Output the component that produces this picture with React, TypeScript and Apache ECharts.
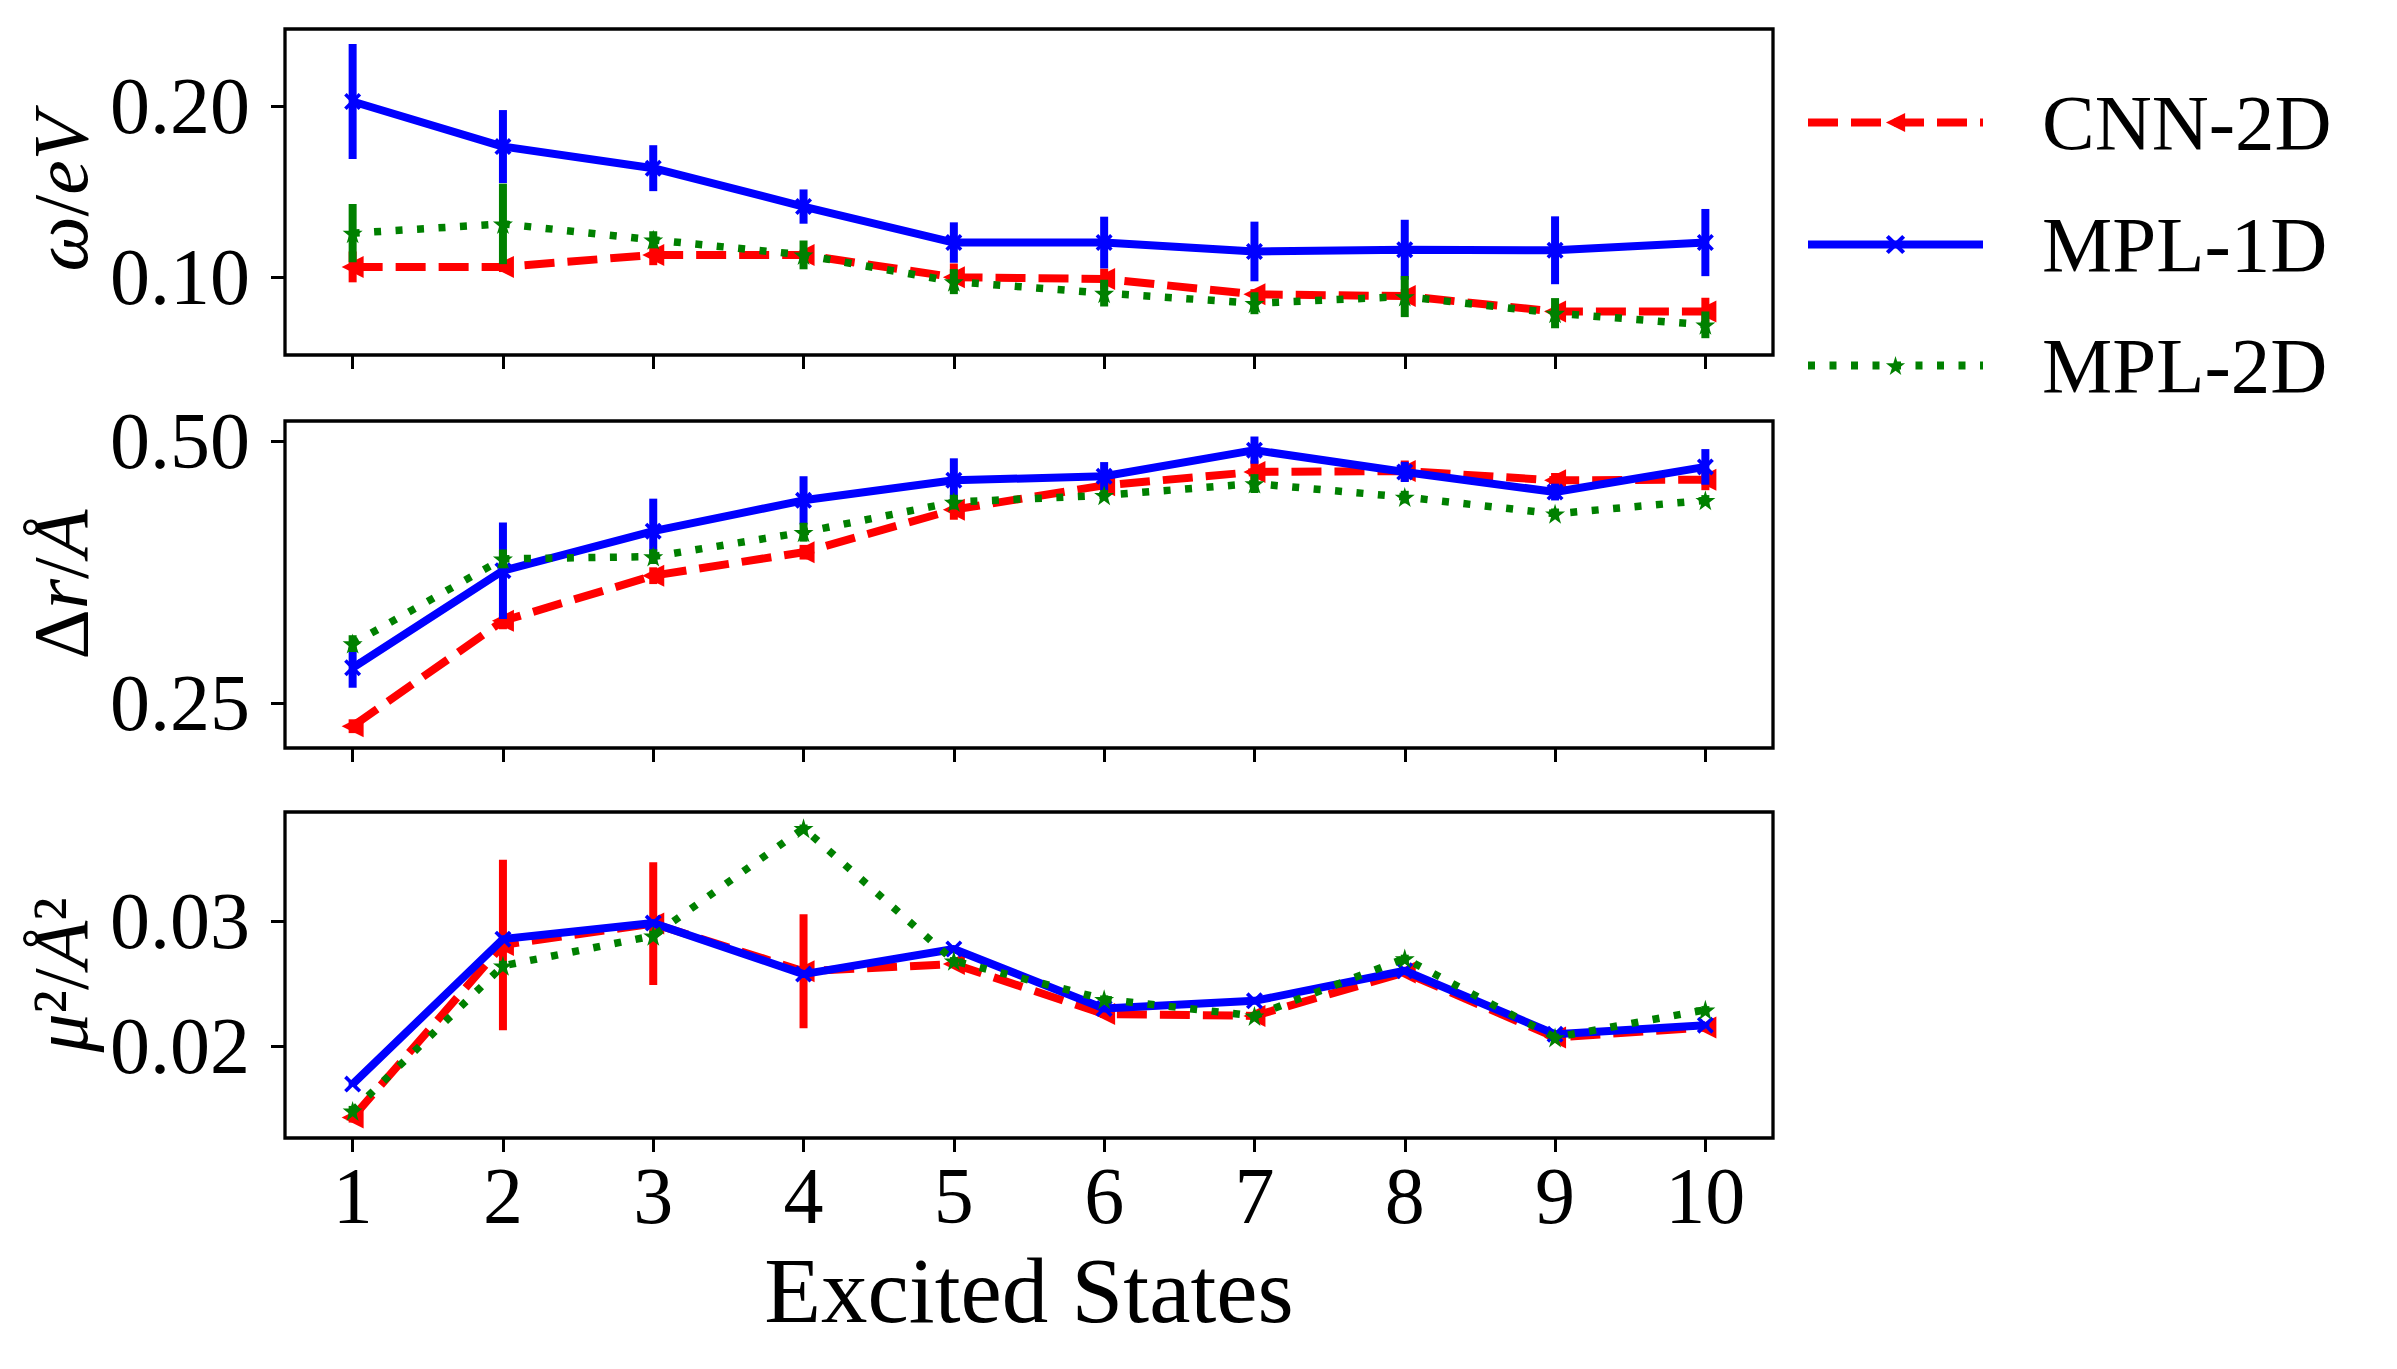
import React, { useEffect, useRef } from "react";
import * as echarts from "echarts";

// ---------------- data ----------------
const states = [1, 2, 3, 4, 5, 6, 7, 8, 9, 10];
const seriesNames = ["CNN-2D", "MPL-1D", "MPL-2D"];

// panel 1: omega / eV
const omegaCNN2D = [0.106, 0.106, 0.113, 0.113, 0.1, 0.099, 0.09, 0.089, 0.08, 0.08];
const omegaCNN2DErr = [0.009, 0.003, 0.006, 0.003, 0.008, 0.006, 0.003, 0.004, 0.003, 0.008];
const omegaMPL1D = [0.2025, 0.1762, 0.1636, 0.1412, 0.1202, 0.1202, 0.115, 0.116, 0.1157, 0.1202];
const omegaMPL1DErr = [0.0335, 0.0213, 0.0134, 0.01, 0.0118, 0.0151, 0.0174, 0.0175, 0.0198, 0.0196];
const omegaMPL2D = [0.1257, 0.1311, 0.1218, 0.113, 0.0974, 0.0907, 0.0848, 0.0887, 0.079, 0.0722];
const omegaMPL2DErr = [0.017, 0.0235, 0.005, 0.0084, 0.0073, 0.0078, 0.0064, 0.012, 0.0088, 0.0078];

// panel 2: delta r / Angstrom
const drCNN2D = [0.2283, 0.3288, 0.3719, 0.3943, 0.4349, 0.4581, 0.4709, 0.4718, 0.4629, 0.4635];
const drCNN2DErr = [0.0066, 0.008, 0.008, 0.007, 0.0096, 0.005, 0.011, 0.01, 0.007, 0.01];
const drMPL1D = [0.284, 0.3767, 0.4144, 0.4438, 0.4629, 0.4668, 0.4917, 0.4709, 0.4517, 0.4757];
const drMPL1DErr = [0.019, 0.046, 0.031, 0.023, 0.021, 0.0135, 0.013, 0.0096, 0.008, 0.017];
const drMPL2D = [0.3071, 0.3879, 0.3901, 0.4134, 0.4421, 0.4486, 0.4598, 0.4469, 0.431, 0.4438];
const drMPL2DErr = [0.008, 0.009, 0.007, 0.009, 0.007, 0.005, 0.009, 0.006, 0.005, 0.005];

// panel 3: mu^2 / Angstrom^2
const muCNN2D = [0.01433, 0.0281, 0.0298, 0.026, 0.02657, 0.02258, 0.02244, 0.0259, 0.02072, 0.02152];
const muCNN2DErr = [0.0004, 0.0068, 0.0049, 0.00455, 0.0003, 0.0003, 0.0003, 0.0003, 0.0003, 0.0003];
const muMPL1D = [0.017, 0.02856, 0.02984, 0.02577, 0.02777, 0.02303, 0.02364, 0.02604, 0.02098, 0.0217];
const muMPL1DErr = [0.0002, 0.0002, 0.0002, 0.0002, 0.0002, 0.0002, 0.0002, 0.0002, 0.0002, 0.0002];
const muMPL2D = [0.01486, 0.02643, 0.02883, 0.0374, 0.02683, 0.02377, 0.02244, 0.02702, 0.02072, 0.02292];
const muMPL2DErr = [0.0004, 0.0004, 0.0004, 0.0003, 0.0003, 0.0003, 0.0003, 0.0003, 0.0003, 0.0003];

// axis limits & ticks
const xLimits = [0.55, 10.45];
const yLimits = [
  [0.0546, 0.2448],
  [0.2075, 0.5195],
  [0.0127, 0.0387],
];
const yTicks = [
  [0.1, 0.2],
  [0.25, 0.5],
  [0.02, 0.03],
];
const yTickLabels = [
  ["0.10", "0.20"],
  ["0.25", "0.50"],
  ["0.02", "0.03"],
];
const yNames = ["{i|ω}/{i|eV}", "Δ{i|r}/{i|Å}", "{i|μ}²/{i|Å}²"];
const xName = "Excited States";

const panelValues = [
  [omegaCNN2D, omegaMPL1D, omegaMPL2D],
  [drCNN2D, drMPL1D, drMPL2D],
  [muCNN2D, muMPL1D, muMPL2D],
];
const panelErrors = [
  [omegaCNN2DErr, omegaMPL1DErr, omegaMPL2DErr],
  [drCNN2DErr, drMPL1DErr, drMPL2DErr],
  [muCNN2DErr, muMPL1DErr, muMPL2DErr],
];

// ---------------- styles ----------------
const FONT = "Liberation Serif";
const colors = ["#ff0000", "#0000ff", "#008000"];
const lineTypes: any[] = [[30, 13], "solid", [7, 14.5]];
const lineWidths = [8, 8, 7.5];
const starPath =
  "path://M50,0 L61,35 L98,35 L68,57 L79,91 L50,70 L21,91 L32,57 L2,35 L39,35 Z";
const crossPath =
  "path://M0,1.5 L1.5,0 L5,3.5 L8.5,0 L10,1.5 L6.5,5 L10,8.5 L8.5,10 L5,6.5 L1.5,10 L0,8.5 L3.5,5 Z";
const symbols = ["triangle", crossPath, starPath];
const symbolRotates = [90, 0, 0];
const symbolSizes = [22, 17, 20];

const grids = [
  { left: 285, top: 29, width: 1488, height: 326 },
  { left: 285, top: 421, width: 1488, height: 327 },
  { left: 285, top: 812, width: 1488, height: 326 },
];
const legendTops = [78, 200, 321];

export default function App() {
  const ref = useRef<HTMLDivElement>(null);

  useEffect(() => {
    document.body.style.margin = "0";
    if (!ref.current) return;
    const chart = echarts.init(ref.current, null, { renderer: "svg" });

    const grid = grids.map((g) => ({
      ...g,
      show: true,
      borderColor: "#000",
      borderWidth: 3.3,
      backgroundColor: "transparent",
    }));

    const xAxis = grids.map((_, i) => ({
      type: "value",
      gridIndex: i,
      min: xLimits[0],
      max: xLimits[1],
      axisLine: { show: false },
      splitLine: { show: false },
      axisTick: {
        show: true,
        inside: false,
        length: 14,
        lineStyle: { color: "#000", width: 3 },
        customValues: states,
      },
      axisLabel: {
        show: i === 2,
        customValues: states,
        margin: 18,
        fontFamily: FONT,
        fontSize: 80,
        color: "#000",
        formatter: (v: number) => String(Math.round(v)),
      },
      name: i === 2 ? xName : "",
      nameLocation: "middle",
      nameGap: 106,
      nameTextStyle: { fontFamily: FONT, fontSize: 93, color: "#000" },
    }));

    const yAxis = grids.map((_, i) => ({
      type: "value",
      gridIndex: i,
      min: yLimits[i][0],
      max: yLimits[i][1],
      axisLine: { show: false },
      splitLine: { show: false },
      axisTick: {
        show: true,
        inside: false,
        length: 14,
        lineStyle: { color: "#000", width: 3 },
        customValues: yTicks[i],
      },
      axisLabel: {
        show: true,
        customValues: yTicks[i],
        margin: 35,
        fontFamily: FONT,
        fontSize: 80,
        color: "#000",
        formatter: (v: number) => {
          const idx = yTicks[i].findIndex((t) => Math.abs(t - v) < 1e-9);
          return idx >= 0 ? yTickLabels[i][idx] : "";
        },
      },
      name: yNames[i],
      nameLocation: "middle",
      nameRotate: 90,
      nameGap: 178,
      nameTextStyle: {
        fontFamily: FONT,
        fontSize: 78,
        color: "#000",
        rich: {
          i: { fontFamily: FONT, fontSize: 78, fontStyle: "italic", color: "#000" },
        },
      },
    }));

    const series: any[] = [];
    for (let p = 0; p < 3; p++) {
      for (let s = 0; s < 3; s++) {
        const vals = panelValues[p][s];
        const errs = panelErrors[p][s];
        const color = colors[s];
        series.push({
          type: "custom",
          name: "err-" + seriesNames[s] + "-" + p,
          xAxisIndex: p,
          yAxisIndex: p,
          data: states.map((x, k) => [x, vals[k] - errs[k], vals[k] + errs[k]]),
          encode: { x: 0, y: [1, 2] },
          z: 2 + s * 2,
          silent: true,
          renderItem: (params: any, api: any) => {
            const x = api.value(0);
            const p1 = api.coord([x, api.value(1)]);
            const p2 = api.coord([x, api.value(2)]);
            return {
              type: "line",
              shape: { x1: p1[0], y1: p1[1], x2: p2[0], y2: p2[1] },
              style: { stroke: color, lineWidth: 8, lineCap: "butt" },
            };
          },
        });
        series.push({
          type: "line",
          name: seriesNames[s],
          xAxisIndex: p,
          yAxisIndex: p,
          data: states.map((x, k) => [x, vals[k]]),
          z: 3 + s * 2,
          symbol: symbols[s],
          symbolSize: symbolSizes[s],
          symbolRotate: symbolRotates[s],
          showSymbol: true,
          showAllSymbol: true,
          itemStyle: { color, opacity: 1 },
          lineStyle: { color, width: lineWidths[s], type: lineTypes[s], cap: "butt" },
          clip: false,
        });
      }
    }

    const legend = seriesNames.map((n, i) => ({
      data: [n],
      orient: "vertical",
      left: 1799,
      top: legendTops[i],
      itemWidth: 175,
      itemHeight: 24,
      selectedMode: false,
      lineStyle: { width: 8 },
      textStyle: {
        fontFamily: FONT,
        fontSize: 79,
        color: "#000",
        padding: [0, 0, 0, 54],
      },
    }));

    chart.setOption({
      animation: false,
      backgroundColor: "#fff",
      grid,
      xAxis,
      yAxis,
      legend,
      series,
    });

    return () => chart.dispose();
  }, []);

  return <div ref={ref} style={{ width: 2397, height: 1369 }} />;
}
